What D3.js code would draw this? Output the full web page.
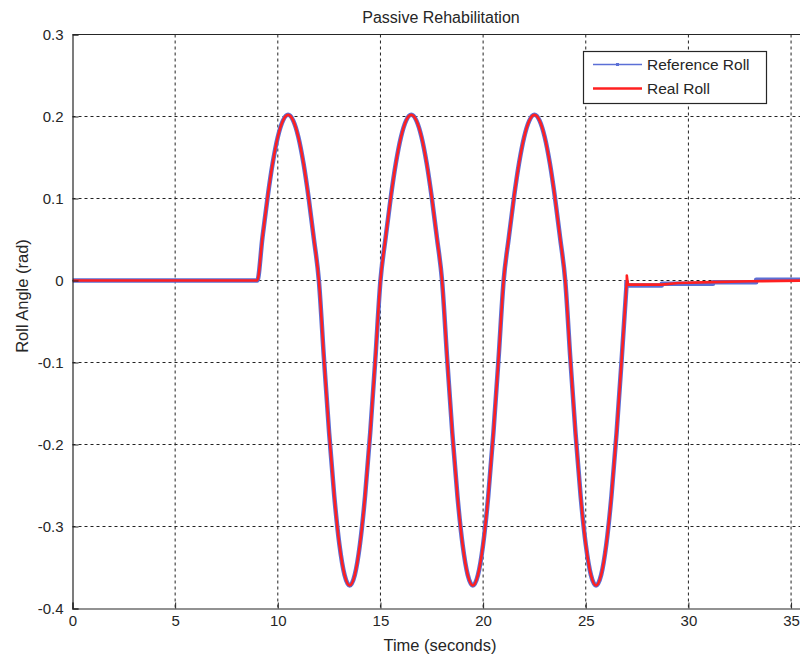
<!DOCTYPE html>
<html>
<head>
<meta charset="utf-8">
<script src="https://cdn.jsdelivr.net/npm/d3@7"></script>
<style>
  body { margin: 0; background: #fff; }
  text { font-family: "Liberation Sans", Arial, sans-serif; fill: #262626; }
</style>
</head>
<body>
<div id="chart"></div>
<script>
// Time samples (s) for the oscillating part
const timeOsc = [0, 9, 9.25, 9.5, 9.75, 10, 10.25, 10.5, 10.75, 11, 11.25, 11.5, 11.75,
  12, 12.25, 12.5, 12.75, 13, 13.25, 13.5, 13.75, 14, 14.25, 14.5, 14.75,
  15, 15.25, 15.5, 15.75, 16, 16.25, 16.5, 16.75, 17, 17.25, 17.5, 17.75,
  18, 18.25, 18.5, 18.75, 19, 19.25, 19.5, 19.75, 20, 20.25, 20.5, 20.75,
  21, 21.25, 21.5, 21.75, 22, 22.25, 22.5, 22.75, 23, 23.25, 23.5, 23.75,
  24, 24.25, 24.5, 24.75, 25, 25.25, 25.5, 25.75, 26, 26.25, 26.5, 26.75, 27];
const rollOsc = [0, 0, 0.052, 0.101, 0.143, 0.175, 0.195, 0.202, 0.195, 0.175, 0.143, 0.101, 0.052,
  0, -0.096, -0.186, -0.263, -0.322, -0.359, -0.372, -0.359, -0.322, -0.263, -0.186, -0.096,
  0, 0.052, 0.101, 0.143, 0.175, 0.195, 0.202, 0.195, 0.175, 0.143, 0.101, 0.052,
  0, -0.096, -0.186, -0.263, -0.322, -0.359, -0.372, -0.359, -0.322, -0.263, -0.186, -0.096,
  0, 0.052, 0.101, 0.143, 0.175, 0.195, 0.202, 0.195, 0.175, 0.143, 0.101, 0.052,
  0, -0.096, -0.186, -0.263, -0.322, -0.359, -0.372, -0.359, -0.322, -0.263, -0.186, -0.096, 0];

// Tail after the motion stops
const timeRefTail = [27, 28.7, 28.7, 31.2, 31.2, 33.3, 33.3, 36];
const rollRefTail = [-0.006, -0.006, -0.004, -0.004, -0.002, -0.002, 0.001, 0.001];
const timeRealTail = [27, 27.05, 28.7, 29.5, 31.1, 33, 36];
const rollRealTail = [0.006, -0.005, -0.005, -0.003, -0.002, -0.001, 0];

const xTicks = [0, 5, 10, 15, 20, 25, 30, 35];
const yTicks = [-0.4, -0.3, -0.2, -0.1, 0, 0.1, 0.2, 0.3];
const seriesNames = ['Reference Roll', 'Real Roll'];
const seriesColors = ['#5b6fd6', '#ff2020'];

const W = 800, H = 655;
const pLeft = 72.5, pTop = 34.5, pBottom = 608.5, pRight = 811.6;

const svg = d3.select('#chart').append('svg')
  .attr('width', W).attr('height', H);

const x = d3.scaleLinear().domain([0, 36]).range([pLeft, pRight]);
const y = d3.scaleLinear().domain([-0.4, 0.3]).range([pBottom, pTop]);

// Grid
const grid = svg.append('g')
  .attr('stroke', '#222').attr('stroke-width', 1).attr('stroke-dasharray', '3,3');
grid.selectAll('.vg').data(xTicks.filter(d => d > 0)).enter().append('line')
  .attr('x1', d => x(d)).attr('x2', d => x(d))
  .attr('y1', pTop).attr('y2', pBottom);
grid.selectAll('.hg').data(yTicks.filter(d => d > -0.4 && d < 0.3)).enter().append('line')
  .attr('x1', pLeft).attr('x2', pRight)
  .attr('y1', d => y(d)).attr('y2', d => y(d));

// Lines
svg.append('clipPath').attr('id', 'clip').append('rect')
  .attr('x', pLeft).attr('y', pTop).attr('width', pRight - pLeft).attr('height', pBottom - pTop);

const smooth = d3.line().x(d => x(d[0])).y(d => y(d[1])).curve(d3.curveMonotoneX);
const straight = d3.line().x(d => x(d[0])).y(d => y(d[1]));
const oscData = timeOsc.map((t, i) => [t, rollOsc[i]]);
const refTail = timeRefTail.map((t, i) => [t, rollRefTail[i]]);
const realTail = timeRealTail.map((t, i) => [t, rollRealTail[i]]);

const plot = svg.append('g').attr('clip-path', 'url(#clip)');
const drawSeries = (tail, color, width) => {
  const g = plot.append('g').attr('fill', 'none').attr('stroke', color)
    .attr('stroke-width', width).attr('stroke-linejoin', 'round');
  g.append('path').datum(oscData).attr('d', smooth);
  g.append('path').datum([oscData[oscData.length - 1]].concat(tail)).attr('d', straight);
};
drawSeries(refTail, seriesColors[0], 4.5);
drawSeries(realTail, seriesColors[1], 2.6);

// Axes
const fmt = d => (d === 0 ? '0' : String(+d.toFixed(1)));
const xAxis = d3.axisBottom(x).tickValues(xTicks).tickSize(-6).tickPadding(7).tickFormat(d3.format('d'));
const yAxis = d3.axisLeft(y).tickValues(yTicks).tickSize(-6).tickPadding(8).tickFormat(fmt);

const gx = svg.append('g').attr('transform', `translate(0,${pBottom})`).call(xAxis);
const gy = svg.append('g').attr('transform', `translate(${pLeft},0)`).call(yAxis);
[gx, gy].forEach(g => {
  g.select('.domain').attr('stroke', '#262626').attr('stroke-width', 1.2);
  g.selectAll('.tick line').attr('stroke', '#262626');
  g.selectAll('.tick text').style('font-size', '15px').attr('fill', '#262626');
});
gy.selectAll('.tick text').attr('x', -9);
svg.append('line').attr('x1', pLeft).attr('x2', pRight).attr('y1', pTop).attr('y2', pTop)
  .attr('stroke', '#262626').attr('stroke-width', 1.2);

// Titles
svg.append('text').attr('x', 441).attr('y', 23).attr('text-anchor', 'middle')
  .style('font-size', '16px').text('Passive Rehabilitation');
svg.append('text').attr('x', 440).attr('y', 651).attr('text-anchor', 'middle')
  .style('font-size', '16.5px').text('Time (seconds)');
svg.append('text').attr('transform', 'translate(28,296) rotate(-90)')
  .attr('text-anchor', 'middle').style('font-size', '16.5px').text('Roll Angle (rad)');

// Legend
const lg = svg.append('g');
lg.append('rect').attr('x', 583.5).attr('y', 51.5).attr('width', 183).attr('height', 52)
  .attr('fill', '#fff').attr('stroke', '#262626').attr('stroke-width', 1.2);
seriesNames.forEach((name, i) => {
  const ly = 64.5 + i * 24;
  lg.append('line').attr('x1', 593).attr('x2', 642).attr('y1', ly).attr('y2', ly)
    .attr('stroke', seriesColors[i]).attr('stroke-width', i === 0 ? 1.5 : 2.6);
  if (i === 0) {
    lg.append('rect').attr('x', 616).attr('y', ly - 1.5).attr('width', 3).attr('height', 3)
      .attr('fill', seriesColors[0]);
  }
  lg.append('text').attr('x', 647).attr('y', ly + 5.5).style('font-size', '15.5px').text(name);
});
</script>
</body>
</html>
